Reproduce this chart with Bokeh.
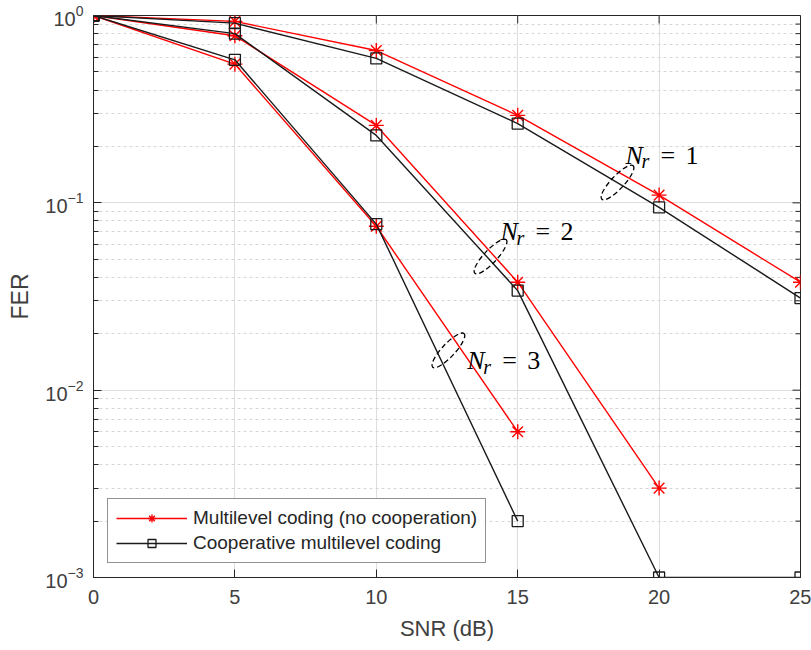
import math

from bokeh.plotting import figure
from bokeh.models import Range1d, FixedTicker, Legend, LegendItem, Label
from bokeh.embed import file_html
from bokeh.resources import INLINE

# SNR grid (dB) and frame error rates
snr = [0, 5, 10, 15, 20, 25]
snr_ticks = [0, 5, 10, 15, 20, 25]
fer_decades = [1e-3, 1e-2, 1e-1, 1.0]

# Multilevel coding without cooperation
mlc_nr1 = [1.0, 0.93, 0.65, 0.293, 0.110, 0.0377]
mlc_nr2 = [1.0, 0.78, 0.259, 0.0377, 0.0030]
mlc_nr3 = [1.0, 0.55, 0.075, 0.0060]

# Cooperative multilevel coding
coop_nr1 = [1.0, 0.91, 0.59, 0.265, 0.0946, 0.031]
coop_nr2 = [1.0, 0.80, 0.229, 0.034, 0.0010, 0.0010]
coop_nr3 = [1.0, 0.58, 0.077, 0.0020]

label_mlc = "Multilevel coding (no cooperation)"
label_coop = "Cooperative multilevel coding"

AX = "#262626"
TICK = "#404040"
RED = "#ff0000"
BLK = "#1a1a1a"

p = figure(frame_width=707, frame_height=562, y_axis_type="log",
           x_range=Range1d(0, 25), y_range=Range1d(1e-3, 1.0),
           output_backend="svg", toolbar_location=None,
           min_border_left=93, min_border_right=11,
           min_border_top=15, min_border_bottom=73)
p.background_fill_color = "white"
p.border_fill_color = "white"
p.outline_line_color = AX
p.outline_line_width = 1

x_ticker = FixedTicker(ticks=snr_ticks, minor_ticks=[])
y_minor = [m * d for d in fer_decades[:-1] for m in range(2, 10)]
y_ticker = FixedTicker(ticks=fer_decades, minor_ticks=y_minor)

p.xaxis.ticker = x_ticker
p.yaxis.ticker = y_ticker
p.xgrid.ticker = x_ticker
p.ygrid.ticker = y_ticker

for ax, minor_in in ((p.xaxis[0], 0), (p.yaxis[0], 5)):
    ax.axis_line_color = AX
    ax.major_tick_line_color = AX
    ax.minor_tick_line_color = AX
    ax.major_tick_in = 8
    ax.major_tick_out = 0
    ax.minor_tick_in = minor_in
    ax.minor_tick_out = 0
    ax.major_label_text_font = "Liberation Sans"
    ax.major_label_text_font_size = "20px"
    ax.major_label_text_color = TICK
    ax.axis_label_text_font = "Liberation Sans"
    ax.axis_label_text_font_style = "normal"
    ax.axis_label_text_color = TICK

p.xaxis.major_label_standoff = 12
p.yaxis.major_label_standoff = 10
p.xaxis.axis_label = "SNR (dB)"
p.yaxis.axis_label = "FER"
p.xaxis.axis_label_text_font_size = "22px"
p.yaxis.axis_label_text_font_size = "23px"
p.xaxis.axis_label_standoff = 9
p.yaxis.axis_label_standoff = 9

p.xgrid.grid_line_color = "#dedede"
p.ygrid.grid_line_color = "#dedede"
p.ygrid.minor_grid_line_color = "#d6d6d6"
p.ygrid.minor_grid_line_dash = "3 3"

# Inward ticks on the top and right edges of the box (half of each dash
# falls outside the frame and is clipped away)
x_top = snr_ticks[1:-1]
p.scatter(x_top, [fer_decades[-1]] * len(x_top), marker="dash",
          angle=math.pi / 2, size=16, line_color=AX, line_width=1)
p.scatter([snr_ticks[-1]] * len(fer_decades), fer_decades, marker="dash",
          size=16, line_color=AX, line_width=1)
p.scatter([snr_ticks[-1]] * len(y_minor), y_minor, marker="dash",
          size=10, line_color=AX, line_width=1)

mlc_series = [mlc_nr1, mlc_nr2, mlc_nr3]
coop_series = [coop_nr1, coop_nr2, coop_nr3]

mlc_renderers = []
for fer in mlc_series:
    xs = snr[:len(fer)]
    ln = p.line(xs, fer, line_color=RED, line_width=1.4)
    mk = p.scatter(xs, fer, marker="asterisk", size=15, line_color=RED,
                   line_width=1.4)
    mlc_renderers.append((ln, mk))

coop_renderers = []
for fer in coop_series:
    xs = snr[:len(fer)]
    ln = p.line(xs, fer, line_color=BLK, line_width=1.4)
    mk = p.scatter(xs, fer, marker="square", size=11, line_color=BLK,
                   fill_color=None, line_width=1.3)
    coop_renderers.append((ln, mk))

# Dashed ellipses grouping each pair of curves
p.ellipse(x=[18.53, 14.04, 12.55], y=[0.1284, 0.0517, 0.0163],
          width=46, height=13, angle=0.82,
          width_units="screen", height_units="screen",
          fill_color=None, line_color="black", line_width=1.3,
          line_dash="5 3")


def nr_label(x, y, n):
    parts = [("N", 0, 0, "26px", "italic"),
             ("r", 16, -6, "20px", "italic"),
             ("=", 35, 0, "26px", "normal"),
             (str(n), 60, 0, "26px", "normal")]
    for txt, dx, dy, size, style in parts:
        p.add_layout(Label(x=x, y=y, x_offset=dx, y_offset=dy, text=txt,
                           text_font="Liberation Serif",
                           text_font_size=size, text_font_style=style,
                           text_color="black", text_baseline="alphabetic",
                           text_align="left"))


nr_label(18.81, 0.179, 1)
nr_label(14.39, 0.0703, 2)
nr_label(13.22, 0.0144, 3)

legend = Legend(items=[
    LegendItem(label=label_mlc, renderers=list(mlc_renderers[0])),
    LegendItem(label=label_coop, renderers=list(coop_renderers[0])),
], location=(14, 14))
legend.border_line_color = AX
legend.border_line_width = 1
legend.background_fill_color = "white"
legend.background_fill_alpha = 1.0
legend.label_text_font = "Liberation Sans"
legend.label_text_font_size = "19px"
legend.label_text_color = AX
legend.glyph_width = 71
legend.glyph_height = 20
legend.label_height = 20
legend.label_standoff = 6
legend.padding = 8
legend.spacing = 3
legend.margin = 0
p.add_layout(legend)

open("out.html", "w").write(file_html(p, INLINE))
